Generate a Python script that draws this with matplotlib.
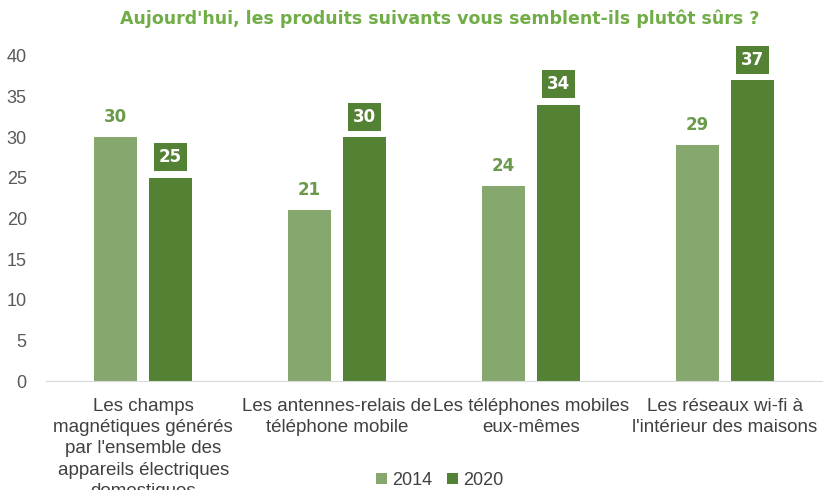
import matplotlib.pyplot as plt
import numpy as np

# données
categories = ["Les champs\nmagnétiques générés\npar l'ensemble des\nappareils électriques\ndomestiques",
              "Les antennes-relais de\ntéléphone mobile",
              "Les téléphones mobiles\neux-mêmes",
              "Les réseaux wi-fi à\nl'intérieur des maisons"]
v2014 = [30, 21, 24, 29]
v2020 = [25, 30, 34, 37]
years = ["2014", "2020"]

c14 = '#86a86e'
c20 = '#548235'
txt_font = 'Liberation Sans'

fig = plt.figure(figsize=(8.25, 4.9), dpi=100)
ax = fig.add_axes([0.056, 0.2224, 0.94, 0.6636])

x = np.arange(len(categories))
w = 0.22
b1 = ax.bar(x - 0.142, v2014, w, color=c14, label=years[0])
b2 = ax.bar(x + 0.142, v2020, w, color=c20, label=years[1])

for r, v in zip(b1, v2014):
    ax.text(r.get_x() + r.get_width() / 2, v + 1.4, str(v), ha='center', va='bottom',
            fontsize=12, fontweight='bold', color='#6b9a4d', family='DejaVu Sans')
for r, v in zip(b2, v2020):
    ax.text(r.get_x() + r.get_width() / 2, v + 1.4, str(v), ha='center', va='bottom',
            fontsize=12, fontweight='bold', color='white', family='DejaVu Sans',
            bbox=dict(boxstyle='square,pad=0.3', fc=c20, ec='none'))

ax.set_xlim(-0.5, 3.5)
ax.set_ylim(0, 40)
ax.set_yticks(range(0, 41, 5))
ax.set_xticks(x)
ax.set_xticklabels(categories, fontsize=13.5, color='#404040', family=txt_font, linespacing=1.33)
ax.tick_params(axis='y', labelsize=13, colors='#595959', length=0, pad=14)
ax.tick_params(axis='x', length=0, pad=12)
for lbl in ax.get_yticklabels():
    lbl.set_family(txt_font)
for s in ['top', 'right', 'left']:
    ax.spines[s].set_visible(False)
ax.spines['bottom'].set_color('#d9d9d9')

fig.text(0.533, 0.962, "Aujourd'hui, les produits suivants vous semblent-ils plutôt sûrs ?",
         ha='center', va='center', fontsize=12.5, fontweight='bold', color='#70ad47',
         family='DejaVu Sans')

leg = fig.legend(loc='center', bbox_to_anchor=(0.533, 0.02), ncol=2, frameon=False,
                 handlelength=0.6, handleheight=0.6, handletextpad=0.3,
                 columnspacing=0.8, prop={'family': txt_font, 'size': 13})
for t in leg.get_texts():
    t.set_color('#404040')

plt.savefig('out.png', dpi=100)
